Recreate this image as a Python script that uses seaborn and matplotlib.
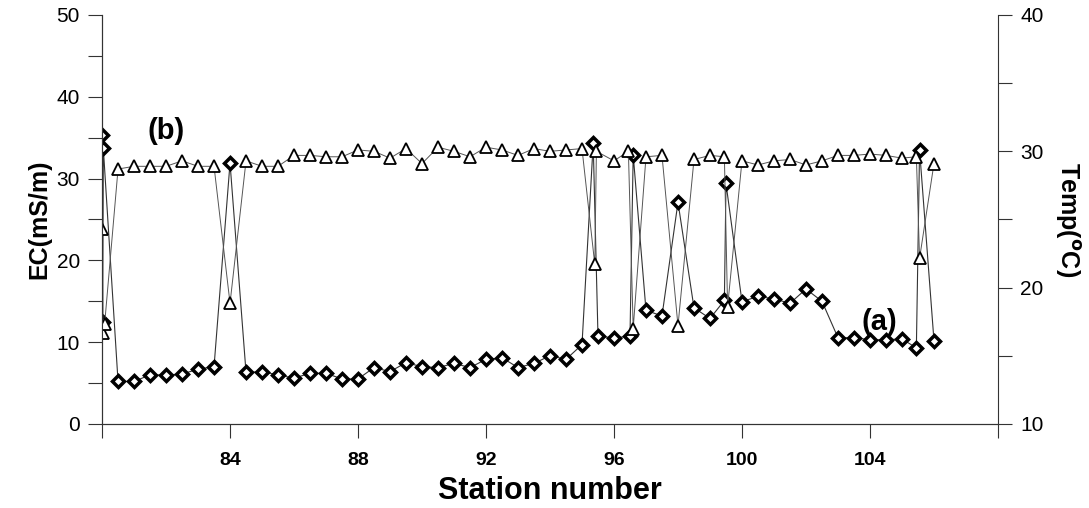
import numpy as np
import matplotlib
matplotlib.use("Agg")
import matplotlib.pyplot as plt
import seaborn as sns

# EC readings (a), station number vs EC (mS/m)
ec_station = [80.0, 80.02, 80.04, 80.5, 81, 81.5, 82, 82.5, 83, 83.5, 84, 84.5, 85, 85.5,
              86, 86.5, 87, 87.5, 88, 88.5, 89, 89.5, 90, 90.5, 91, 91.5, 92, 92.5, 93,
              93.5, 94, 94.5, 95, 95.35, 95.5, 96, 96.5, 96.6, 97, 97.5, 98, 98.5, 99,
              99.45, 99.5, 100, 100.5, 101, 101.5, 102, 102.5, 103, 103.5, 104, 104.5,
              105, 105.45, 105.55, 106]
ec_value = [35.3, 12.5, 33.7, 5.2, 5.2, 6.0, 6.0, 6.1, 6.7, 7.0, 31.9, 6.3, 6.4, 6.0,
            5.6, 6.2, 6.2, 5.5, 5.5, 6.9, 6.4, 7.5, 7.0, 6.9, 7.4, 6.9, 7.9, 8.1, 6.9,
            7.4, 8.35, 7.9, 9.7, 34.3, 10.7, 10.55, 10.7, 32.9, 13.9, 13.2, 27.1, 14.2, 12.9,
            15.1, 29.4, 14.95, 15.6, 15.3, 14.75, 16.5, 15.0, 10.55, 10.55, 10.3, 10.3,
            10.4, 9.3, 33.5, 10.2]

# temperature readings (b), station number vs Temp (oC)
temp_station = [80.0, 80.03, 80.08, 80.5, 81, 81.5, 82, 82.5, 83, 83.5, 84, 84.5, 85, 85.5,
                86, 86.5, 87, 87.5, 88, 88.5, 89, 89.5, 90, 90.5, 91, 91.5, 92, 92.5, 93,
                93.5, 94, 94.5, 95, 95.4, 95.45, 96, 96.45, 96.6, 97, 97.5, 98, 98.5, 99,
                99.45, 99.55, 100, 100.5, 101, 101.5, 102, 102.5, 103, 103.5, 104, 104.5,
                105, 105.45, 105.55, 106]
temp_value = [24.3, 16.7, 17.3, 28.7, 28.9, 28.9, 28.9, 29.3, 28.9, 28.9, 18.85, 29.3, 28.9, 28.9,
              29.7, 29.7, 29.6, 29.6, 30.1, 30.0, 29.5, 30.2, 29.1, 30.3, 30.0, 29.6, 30.3, 30.1, 29.7,
              30.2, 30.0, 30.1, 30.2, 21.7, 30.0, 29.3, 30.0, 17.0, 29.6, 29.7, 17.2, 29.4, 29.7,
              29.6, 18.6, 29.3, 29.0, 29.3, 29.4, 29.0, 29.3, 29.7, 29.7, 29.8, 29.7,
              29.5, 29.6, 22.15, 29.1]

x_ticks = [80, 84, 88, 92, 96, 100, 104, 108]
x_labels = ['', '84', '88', '92', '96', '100', '104', '']

sns.set_style('ticks')
plt.rcParams['font.family'] = ['Liberation Sans', 'DejaVu Sans']
plt.rcParams['text.color'] = 'black'
plt.rcParams['axes.labelcolor'] = 'black'
plt.rcParams['xtick.color'] = 'black'
plt.rcParams['ytick.color'] = 'black'

fig = plt.figure(figsize=(10.89, 5.08), dpi=100)
ax = fig.add_axes([0.0937, 0.1654, 0.8227, 0.8051])
ax2 = ax.twinx()

# EC line with diamonds, temperature line with open triangles on the right axis
sns.lineplot(x=ec_station, y=ec_value, ax=ax, sort=False, estimator=None,
             color='#333333', lw=0.8, marker='D', markersize=6,
             markerfacecolor='white', markeredgecolor='black', markeredgewidth=2.5)
sns.lineplot(x=temp_station, y=temp_value, ax=ax2, sort=False, estimator=None,
             color='#555555', lw=0.7, marker='^', markersize=9,
             markerfacecolor='white', markeredgecolor='black', markeredgewidth=1.3)

ax.set_xlim(80, 108)
ax.set_ylim(0, 50)
ax2.set_ylim(10, 40)

ax.set_xticks(x_ticks)
ax.set_xticklabels(x_labels, fontsize=14, fontweight='bold')
ax.set_yticks(np.arange(0, 51, 10))
ax.set_yticks(np.arange(0, 51, 5), minor=True)
ax2.set_yticks(np.arange(10, 41, 10))
ax2.set_yticks(np.arange(10, 41, 5), minor=True)

for a in (ax, ax2):
    a.tick_params(which='both', direction='out', length=10, width=0.8, color='#333333')
    a.tick_params(axis='y', labelsize=15)
    a.spines['top'].set_visible(False)
    for s in a.spines.values():
        s.set_color('#333333')
        s.set_linewidth(0.8)
ax.tick_params(axis='x', pad=10)
ax.tick_params(axis='y', pad=6)
ax2.tick_params(axis='y', pad=6)
ax.spines['right'].set_visible(False)

ax.set_xlabel('Station number', fontsize=22, fontweight='bold', labelpad=5)
ax.set_ylabel('EC(mS/m)', fontsize=18, fontweight='bold', labelpad=4)
ax2.set_ylabel(r'Temp($\mathbf{^{o}}$C)', fontsize=18, fontweight='bold',
               rotation=-90, labelpad=28)

ax.text(82.0, 35.8, '(b)', fontsize=21, fontweight='bold', ha='center', va='center')
ax.text(104.3, 12.5, '(a)', fontsize=21, fontweight='bold', ha='center', va='center')

ax.grid(False)
ax2.grid(False)
fig.savefig('out.png', dpi=100)
